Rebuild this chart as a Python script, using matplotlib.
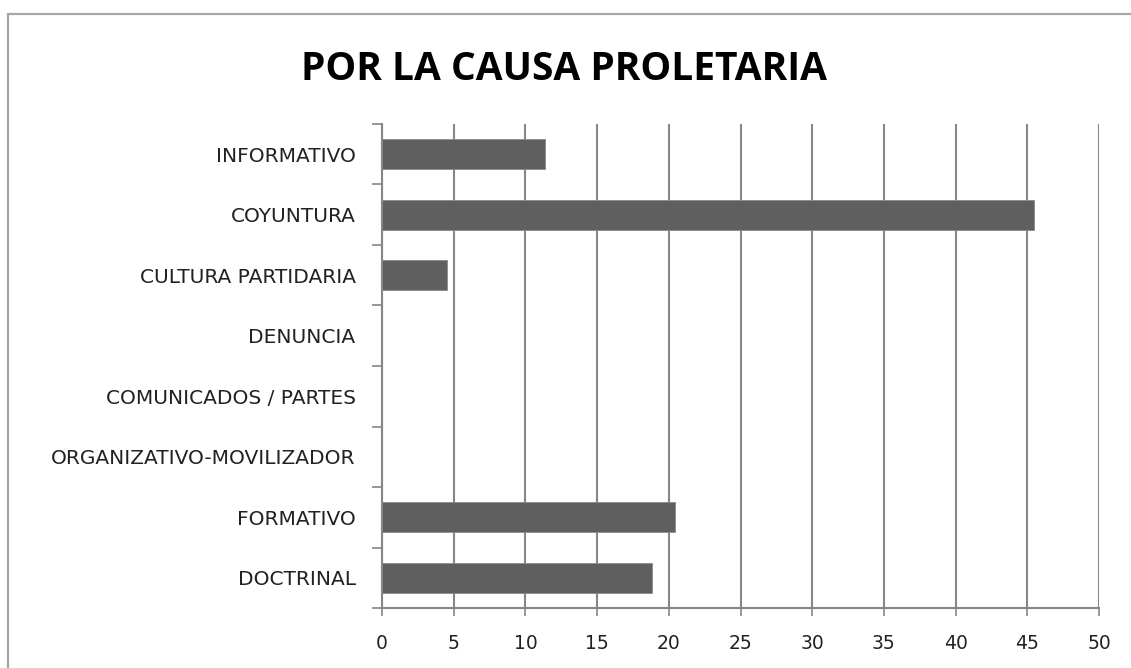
import matplotlib.pyplot as plt
from matplotlib.patches import Rectangle

# Datos (de arriba hacia abajo)
categorias = ["INFORMATIVO", "COYUNTURA", "CULTURA PARTIDARIA", "DENUNCIA",
              "COMUNICADOS / PARTES", "ORGANIZATIVO-MOVILIZADOR",
              "FORMATIVO", "DOCTRINAL"]
valores = [11.35, 45.5, 4.5, 0, 0, 0, 20.45, 18.8]
xticks = list(range(0, 55, 5))

plt.rcParams['font.family'] = ['DejaVu Sans']

fig = plt.figure(figsize=(11.31, 6.68), dpi=100)
ax = fig.add_axes([382 / 1131, 1 - 608 / 668, (1099 - 382) / 1131, (608 - 124) / 668])

# marco gris alrededor del gráfico
fig.patches.append(Rectangle((8 / 1131, -0.01), 1.1, 1 - 14 / 668 + 0.01,
                             transform=fig.transFigure, fill=False,
                             edgecolor="#a6a6a6", linewidth=1.6))

pos = list(range(len(categorias)))[::-1]
ax.barh(pos, valores, height=0.49, color="#5f5f5f", edgecolor="#8a8a8a",
        linewidth=0.6, zorder=3)

ax.set_xlim(0, 50)
ax.set_ylim(-0.5, len(categorias) - 0.5)
ax.set_xticks(xticks)
ax.set_xticklabels([str(t) for t in xticks])
ax.set_yticks(pos)
ax.set_yticklabels(categorias, fontsize=14.5)
# marcas de categorías en los bordes
ax.set_yticks([p - 0.5 for p in range(len(categorias) + 1)], minor=True)
ax.tick_params(axis="y", which="major", length=0, pad=19)
ax.tick_params(axis="y", which="minor", length=7, width=1.2, color="#868686")
ax.tick_params(axis="x", length=6, width=1.2, color="#868686", pad=13)
ax.tick_params(axis="x", labelsize=13.5)
ax.tick_params(labelcolor="#222222")

ax.grid(axis="x", color="#868686", linewidth=1.5, zorder=0)
for s in ["top", "right"]:
    ax.spines[s].set_visible(False)
ax.spines["left"].set_color("#868686")
ax.spines["bottom"].set_color("#868686")
ax.spines["left"].set_linewidth(1.5)
ax.spines["bottom"].set_linewidth(1.5)

fig.text(0.499, 1 - 70 / 668, "POR LA CAUSA PROLETARIA", ha="center", va="center",
         fontsize=28, fontweight="bold", color="black", family="Open Sans")

fig.savefig("out.png", dpi=100)
